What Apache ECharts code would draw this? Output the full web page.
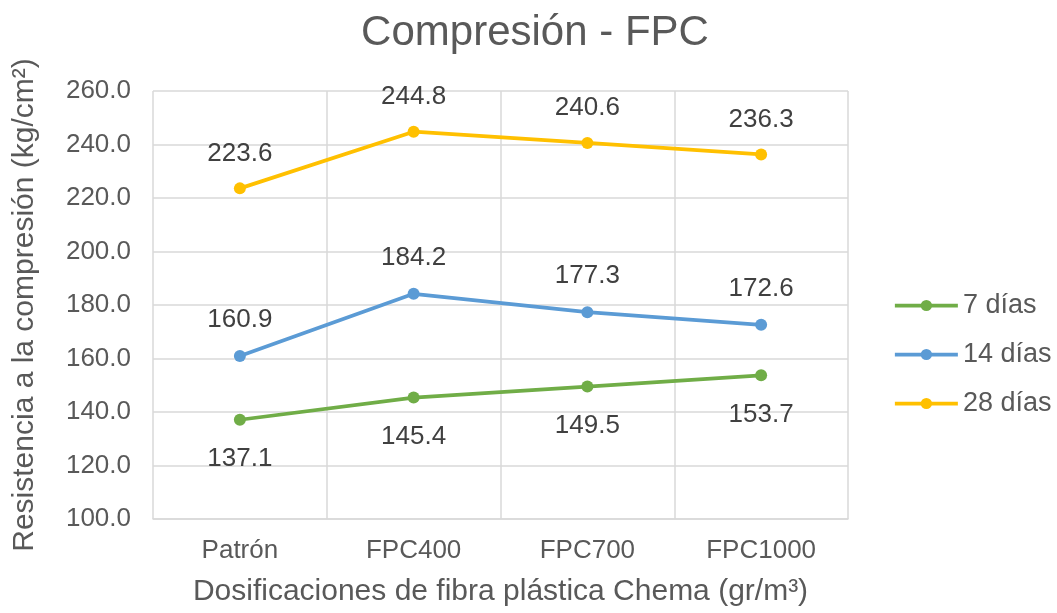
<!DOCTYPE html>
<html>
<head>
<meta charset="utf-8">
<script src="https://cdn.jsdelivr.net/npm/echarts@6/dist/echarts.min.js"></script>
<style>
  html, body { margin: 0; padding: 0; background: #fff; }
  #chart { width: 1057px; height: 613px; }
</style>
</head>
<body>
<div id="chart"></div>
<script>
// Dosificaciones de fibra plástica
const categories = ['Patrón', 'FPC400', 'FPC700', 'FPC1000'];
// Resistencia a la compresión (kg/cm²) por edad de ensayo
const dias7 = [137.1, 145.4, 149.5, 153.7];
const dias14 = [160.9, 184.2, 177.3, 172.6];
const dias28 = [223.6, 244.8, 240.6, 236.3];
const seriesNames = ['7 días', '14 días', '28 días'];

const FONT = '"Liberation Sans", Arial, sans-serif';
const GRID = '#d9d9d9';
const TEXT = '#595959';

function lineSeries(name, data, color, labelPos, dist) {
  return {
    name: name,
    type: 'line',
    data: data,
    symbol: 'circle',
    symbolSize: 12,
    itemStyle: { color: color },
    lineStyle: { color: color, width: 3.75 },
    label: {
      show: true,
      position: labelPos,
      distance: dist,
      formatter: p => p.value.toFixed(1),
      fontFamily: FONT,
      fontSize: 26,
      color: '#404040'
    },
    animation: false
  };
}

const chart = echarts.init(document.getElementById('chart'));
chart.setOption({
  backgroundColor: '#ffffff',
  title: {
    text: 'Compresión - FPC',
    left: 530,
    textAlign: 'center',
    top: 7,
    textStyle: { fontFamily: FONT, fontSize: 42, fontWeight: 'normal', color: TEXT }
  },
  legend: {
    orient: 'vertical',
    left: 888,
    top: 287,
    itemWidth: 63,
    itemHeight: 14,
    itemGap: 22,
    lineStyle: { width: 3.75 },
    data: seriesNames.map(n => ({ name: n })),
    textStyle: { fontFamily: FONT, fontSize: 27, color: TEXT }
  },
  grid: { left: 153, right: 209, top: 91, bottom: 94, containLabel: false },
  xAxis: {
    type: 'category',
    data: categories,
    boundaryGap: true,
    name: 'Dosificaciones de fibra plástica Chema (gr/m³)',
    nameLocation: 'middle',
    nameGap: 58,
    nameTextStyle: { fontFamily: FONT, fontSize: 30, color: TEXT },
    axisLine: { show: true, lineStyle: { color: GRID, width: 1.5 } },
    axisTick: { show: false },
    axisLabel: { fontFamily: FONT, fontSize: 26, color: TEXT, margin: 19 },
    splitLine: { show: true, lineStyle: { color: GRID, width: 1.5 } }
  },
  yAxis: {
    type: 'value',
    min: 100,
    max: 260,
    interval: 20,
    name: 'Resistencia a la compresión (kg/cm²)',
    nameLocation: 'middle',
    nameGap: 113,
    nameTextStyle: { fontFamily: FONT, fontSize: 30, color: TEXT },
    axisLine: { show: false },
    axisTick: { show: false },
    axisLabel: { fontFamily: FONT, fontSize: 26, color: TEXT, margin: 22, formatter: v => v.toFixed(1) },
    splitLine: { show: true, lineStyle: { color: GRID, width: 1.5 } }
  },
  series: [
    lineSeries(seriesNames[0], dias7, '#70ad47', 'bottom', 20),
    lineSeries(seriesNames[1], dias14, '#5b9bd5', 'top', 17),
    lineSeries(seriesNames[2], dias28, '#ffc000', 'top', 16)
  ]
});
</script>
</body>
</html>
